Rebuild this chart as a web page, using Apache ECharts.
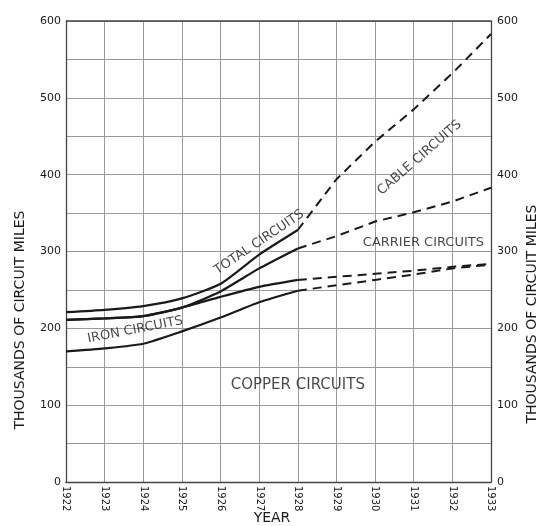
<!DOCTYPE html>
<html>
<head>
<meta charset="utf-8">
<script src="https://cdn.jsdelivr.net/npm/echarts@6/dist/echarts.min.js"></script>
<style>
html,body{margin:0;padding:0;background:#fff;}
#chart{width:544px;height:526px;}
</style>
</head>
<body>
<div id="chart"></div>
<script>
// ---- data (thousands of circuit miles) ----
const years = [1922, 1923, 1924, 1925, 1926, 1927, 1928, 1929, 1930, 1931, 1932, 1933];
// cumulative boundaries
const copperLine       = [170, 174, 180, 196, 214, 234, 249, 256, 263, 270, 278, 283];
const ironLine         = [211, 213, 216, 227, 241, 254, 263, 267, 271, 275, 280, 284];
const carrierLine      = [211, 213, 216, 227, 248, 278, 304, 320, 339, 351, 365, 383];
const totalLine        = [221, 224, 229, 239, 258, 296, 328, 394, 443, 485, 532, 583];
const lastActualYear   = 1928;
const yTickLabels      = [0, 100, 200, 300, 400, 500, 600];

// region labels: text, year position, value position, angle
const labelTexts  = ['TOTAL CIRCUITS', 'CABLE CIRCUITS', 'CARRIER CIRCUITS', 'IRON CIRCUITS', 'COPPER CIRCUITS'];
const labelYears  = [1927.0, 1931.15, 1931.25, 1923.79, 1928.0];
const labelValues = [312, 422, 311, 198, 126];
const labelAngles = [34, 41, 0, 11, 0];
const labelSizes  = [13, 13, 13, 13, 15];

const ink = '#1a1a1a';
const font = 'DejaVu Sans';

function part(values, solid) {
  const out = [];
  years.forEach((y, i) => {
    if (solid ? y <= lastActualYear : y >= lastActualYear) out.push([y, values[i]]);
  });
  return out;
}

const lines = [copperLine, ironLine, carrierLine, totalLine];
const series = [];
lines.forEach(v => {
  series.push({
    type: 'line', data: part(v, true), smooth: 0.2,
    symbol: 'none', lineStyle: { color: ink, width: 2.2 }, z: 3, silent: true
  });
  series.push({
    type: 'line', data: part(v, false), smooth: false,
    symbol: 'none', lineStyle: { color: ink, width: 2, type: [9, 6] }, z: 3, silent: true
  });
});
series.push({
  type: 'scatter', symbolSize: 0, silent: true, z: 5,
  data: labelTexts.map((t, i) => ({
    value: [labelYears[i], labelValues[i]],
    label: {
      show: true, position: 'inside', formatter: t, rotate: labelAngles[i],
      fontSize: labelSizes[i], fontFamily: font, color: ink
    }
  }))
});

const chart = echarts.init(document.getElementById('chart'), null, { renderer: 'canvas' });
const yLabelFmt = v => (yTickLabels.indexOf(v) >= 0 ? String(v) : '');
chart.setOption({
  animation: false,
  backgroundColor: '#fff',
  grid: { left: 66, right: 53, top: 21, bottom: 44, show: false },
  xAxis: {
    type: 'value', min: 1922, max: 1933, interval: 1,
    axisLine: { show: true, lineStyle: { color: '#444', width: 1.3 } },
    axisTick: { show: false },
    axisLabel: {
      formatter: v => String(v), rotate: -90, fontSize: 10, fontFamily: font,
      color: ink, margin: 4
    },
    splitLine: { show: true, lineStyle: { color: '#9a9a9a', width: 1 } }
  },
  yAxis: [
    {
      type: 'value', min: 0, max: 600, interval: 50, position: 'left',
      axisLine: { show: true, lineStyle: { color: '#444', width: 1.3 } },
      axisTick: { show: false },
      axisLabel: { formatter: yLabelFmt, fontSize: 11, fontFamily: font, color: ink, margin: 5 },
      splitLine: { show: true, lineStyle: { color: '#9a9a9a', width: 1 } }
    },
    {
      type: 'value', min: 0, max: 600, interval: 50, position: 'right',
      axisLine: { show: true, lineStyle: { color: '#444', width: 1.3 } },
      axisTick: { show: false },
      axisLabel: { formatter: yLabelFmt, fontSize: 11, fontFamily: font, color: ink, margin: 6 },
      splitLine: { show: false }
    }
  ],
  graphic: [
    { type: 'line', shape: { x1: 66, y1: 21, x2: 491, y2: 21 }, style: { stroke: '#444', lineWidth: 1.3 }, z: 2 },
    {
      type: 'text', x: 20, y: 320, rotation: Math.PI / 2,
      style: { text: 'THOUSANDS OF CIRCUIT MILES', fontSize: 14, fontFamily: font, fill: ink, align: 'center', verticalAlign: 'middle' }
    },
    {
      type: 'text', x: 532, y: 314, rotation: Math.PI / 2,
      style: { text: 'THOUSANDS OF CIRCUIT MILES', fontSize: 14, fontFamily: font, fill: ink, align: 'center', verticalAlign: 'middle' }
    },
    {
      type: 'text', x: 272, y: 518,
      style: { text: 'YEAR', fontSize: 14, fontFamily: font, fill: ink, align: 'center', verticalAlign: 'middle' }
    }
  ],
  series: series
});
</script>
</body>
</html>
